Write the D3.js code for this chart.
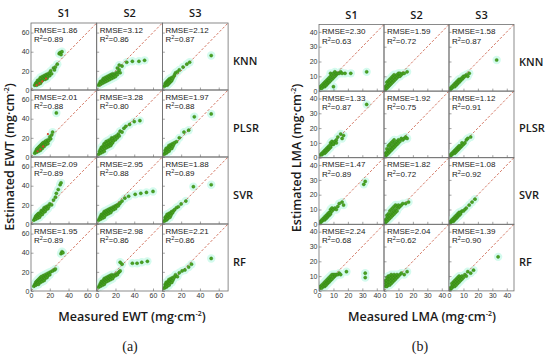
<!DOCTYPE html>
<html>
<head>
  <meta charset="utf-8">
  <script src="https://cdn.jsdelivr.net/npm/d3@7"></script>
  <style>
    body { margin: 0; background: #fff; }
    svg { display: block; }
    .lab { font-family: "Open Sans", "Liberation Sans", sans-serif; font-weight: 600; fill: #1a1a1a; }
    .stat { font-family: "Liberation Sans", Arial, sans-serif; font-size: 8px; fill: #222; }
    .tick text { font-family: "Liberation Sans", Arial, sans-serif; font-size: 7px; fill: #333; }
    .tick line { stroke: #666; stroke-width: 0.6; }
  </style>
</head>
<body>
<div id="chart"></div>
<script>
  const sensors = ["S1", "S2", "S3"];
  const models = ["KNN", "PLSR", "SVR", "RF"];
  const ewtTicks = [0, 20, 40, 60];
  const lmaTicks = [0, 10, 20, 30, 40];

  // RMSE / R2 per model (rows) and sensor (columns)
  const ewtRmse = [[1.86, 3.12, 2.12], [2.01, 3.28, 1.97], [2.09, 2.95, 1.88], [1.95, 2.98, 2.21]];
  const ewtR2   = [[0.89, 0.86, 0.87], [0.88, 0.80, 0.88], [0.89, 0.88, 0.89], [0.89, 0.86, 0.86]];
  const lmaRmse = [[2.30, 1.59, 1.58], [1.33, 1.92, 1.12], [1.47, 1.82, 1.08], [2.24, 2.04, 1.39]];
  const lmaR2   = [[0.63, 0.72, 0.87], [0.87, 0.75, 0.91], [0.89, 0.72, 0.92], [0.68, 0.62, 0.90]];

  // measured, estimated (EWT)
  const ewtKnnS1 = [[4,5],[5,7],[6,5],[6,8],[7,7],[7,10],[8,6],[8,9],[9,8],[9,11],[10,7],[10,10],[10,13],[11,9],[11,12],[12,10],[12,14],[13,11],[13,13],[14,12],[14,15],[15,11],[15,14],[16,13],[16,16],[17,12],[17,15],[18,14],[18,17],[19,16],[20,15],[20,18],[21,20],[22,17],[24,23],[25,21],[26,24],[28,27],[30,38],[31,39],[32,37],[33,40]];
  const ewtKnnS2 = [[2,5],[3,7],[4,6],[4,9],[5,8],[6,7],[6,10],[7,9],[7,12],[8,8],[8,11],[9,10],[9,13],[10,9],[10,12],[11,11],[11,14],[12,10],[12,13],[13,12],[13,15],[14,11],[14,14],[15,13],[15,16],[16,12],[16,15],[17,14],[17,17],[18,13],[18,16],[19,15],[20,17],[20,14],[21,18],[22,16],[23,19],[24,21],[25,18],[22,23],[24,26],[27,25],[32,29],[38,30],[45,30],[51,31]];
  const ewtKnnS3 = [[2,4],[3,5],[3,7],[4,6],[4,8],[5,5],[5,7],[5,9],[6,6],[6,8],[6,10],[7,7],[7,9],[7,11],[8,8],[8,10],[8,12],[9,9],[9,11],[10,10],[10,13],[11,12],[12,14],[13,16],[14,18],[16,19],[18,21],[22,24],[26,27],[29,29],[52,36]];
  const ewtPlsrS1 = [[4,4],[5,6],[6,5],[6,8],[7,7],[7,9],[8,6],[8,10],[9,8],[9,11],[10,7],[10,9],[10,12],[11,10],[11,13],[12,9],[12,11],[12,14],[13,12],[13,15],[14,11],[14,13],[15,14],[15,16],[16,13],[16,17],[17,15],[18,14],[18,18],[19,17],[20,21],[21,19],[22,23],[23,26],[27,46]];
  const ewtPlsrS2 = [[2,3],[3,6],[4,4],[4,8],[5,7],[5,10],[6,5],[6,9],[7,8],[7,12],[8,6],[8,10],[8,14],[9,9],[9,13],[10,11],[10,16],[11,10],[11,14],[12,12],[12,17],[13,11],[13,15],[14,13],[14,18],[15,12],[15,16],[16,14],[16,20],[17,15],[17,19],[18,17],[19,21],[20,18],[21,22],[22,20],[23,24],[24,22],[25,27],[27,26],[29,30],[31,32],[35,34],[40,37],[46,38]];
  const ewtPlsrS3 = [[2,3],[3,5],[3,7],[4,4],[4,6],[4,9],[5,5],[5,8],[6,7],[6,10],[7,6],[7,9],[7,12],[8,8],[8,11],[9,10],[9,13],[10,9],[10,12],[11,11],[11,14],[12,13],[13,15],[15,16],[18,20],[23,26],[28,28],[34,42],[52,45]];
  const ewtSvrS1 = [[3,4],[4,6],[5,5],[5,8],[6,7],[6,9],[7,6],[7,10],[8,8],[8,11],[9,7],[9,10],[10,9],[10,12],[11,11],[11,14],[12,10],[12,13],[13,12],[13,15],[14,14],[14,17],[15,13],[15,16],[16,15],[16,18],[17,17],[18,16],[18,19],[19,18],[20,21],[22,20],[24,25],[26,28],[27,32],[29,36],[31,41],[32,43]];
  const ewtSvrS2 = [[2,4],[3,6],[4,5],[4,8],[5,7],[5,10],[6,6],[6,9],[7,8],[7,11],[8,7],[8,10],[8,13],[9,9],[9,12],[10,11],[10,14],[11,10],[11,13],[12,12],[12,15],[13,11],[13,14],[14,13],[14,16],[15,12],[15,15],[16,14],[16,17],[17,16],[18,15],[18,18],[19,17],[20,16],[20,19],[21,18],[22,20],[23,19],[24,21],[25,22],[27,24],[30,27],[34,29],[41,31],[47,32],[53,33],[60,34]];
  const ewtSvrS3 = [[2,3],[3,5],[3,7],[4,4],[4,6],[4,8],[5,5],[5,7],[5,10],[6,6],[6,9],[7,8],[7,11],[8,7],[8,10],[9,9],[9,12],[10,11],[10,13],[11,12],[12,14],[13,15],[15,17],[17,18],[20,21],[25,24],[33,39],[52,41]];
  const ewtRfS1 = [[3,5],[4,7],[5,6],[5,9],[6,7],[6,10],[7,8],[7,11],[8,7],[8,9],[8,12],[9,10],[9,13],[10,9],[10,11],[10,14],[11,12],[11,15],[12,10],[12,13],[13,12],[13,16],[14,14],[14,11],[15,13],[15,17],[16,15],[17,14],[17,18],[18,16],[19,19],[20,17],[21,20],[23,21],[25,22],[26,23],[32,39],[33,41],[34,40]];
  const ewtRfS2 = [[2,4],[3,6],[4,5],[4,8],[5,7],[5,10],[6,6],[6,9],[7,8],[7,11],[8,7],[8,10],[8,13],[9,9],[9,12],[10,11],[10,14],[11,10],[11,13],[12,12],[12,15],[13,11],[13,14],[14,13],[14,16],[15,12],[15,15],[16,14],[16,17],[17,13],[17,16],[18,15],[19,17],[20,16],[21,18],[22,17],[23,19],[24,20],[25,21],[25,30],[27,28],[38,29],[43,29],[48,30],[54,31]];
  const ewtRfS3 = [[2,3],[3,5],[3,7],[4,4],[4,6],[4,9],[5,5],[5,8],[6,7],[6,10],[7,6],[7,9],[7,12],[8,8],[8,11],[9,10],[9,13],[10,9],[10,12],[11,11],[11,14],[12,13],[13,15],[14,17],[16,15],[18,19],[21,21],[24,22],[28,25],[31,28],[52,34]];
  // red-marked samples
  const ewtKnnS1Red = [[6,5],[9,7],[12,9],[16,12]];
  const ewtPlsrS1Red = [[7,6],[10,8],[13,11],[18,24]];

  // measured, estimated (LMA)
  const lmaKnnS1 = [[1,2],[1,3],[2,2],[2,4],[3,3],[3,5],[4,3],[4,4],[4,6],[5,4],[5,5],[5,7],[6,5],[6,6],[6,8],[7,6],[7,7],[7,9],[8,7],[8,10],[8,12],[9,8],[9,11],[10,9],[10,12],[11,10],[11,13],[12,11],[12,12],[13,12],[14,12],[15,13],[16,12],[18,12],[22,12],[33,13],[10,3]];
  const lmaKnnS2 = [[1,1],[1,3],[2,2],[2,4],[2,6],[3,3],[3,5],[3,7],[4,4],[4,6],[4,8],[5,5],[5,7],[5,9],[6,6],[6,8],[6,10],[7,7],[7,9],[7,11],[8,8],[8,10],[9,9],[9,11],[10,10],[10,12],[11,10],[11,12],[12,11],[13,12],[14,12],[16,13]];
  const lmaKnnS3 = [[1,1],[1,2],[2,2],[2,3],[3,3],[3,4],[4,3],[4,5],[5,4],[5,5],[5,6],[6,5],[6,6],[6,7],[7,6],[7,7],[7,8],[8,7],[8,8],[9,8],[9,9],[10,9],[10,10],[11,10],[12,11],[13,10],[14,12],[33,21]];
  const lmaPlsrS1 = [[1,2],[2,2],[2,3],[3,3],[3,4],[4,3],[4,4],[4,5],[5,4],[5,5],[5,6],[6,5],[6,6],[6,7],[7,6],[7,7],[7,8],[8,7],[8,8],[8,10],[9,9],[9,11],[10,9],[10,10],[11,11],[12,10],[12,12],[13,14],[15,16],[16,13],[17,15],[33,36]];
  const lmaPlsrS2 = [[1,1],[1,3],[2,2],[2,4],[2,6],[3,3],[3,5],[3,8],[4,4],[4,6],[4,9],[5,5],[5,7],[5,10],[6,6],[6,8],[6,11],[7,7],[7,9],[7,12],[8,8],[8,10],[9,9],[9,11],[10,10],[10,12],[11,11],[12,13],[13,12],[14,13],[15,14],[16,13]];
  const lmaPlsrS3 = [[1,1],[1,2],[2,2],[2,3],[3,3],[3,4],[4,3],[4,4],[4,5],[5,4],[5,5],[5,6],[6,5],[6,6],[6,7],[7,6],[7,7],[7,8],[8,7],[8,8],[9,8],[9,10],[10,9],[11,10],[12,12],[13,13],[15,14]];
  const lmaSvrS1 = [[1,1],[1,2],[2,2],[2,3],[3,3],[3,4],[4,3],[4,4],[4,5],[5,4],[5,5],[5,6],[6,5],[6,6],[6,7],[7,6],[7,7],[7,8],[8,7],[8,8],[8,10],[9,9],[9,11],[10,10],[11,11],[12,10],[13,12],[14,14],[16,15],[17,13],[31,27],[32,29]];
  const lmaSvrS2 = [[1,1],[1,3],[2,2],[2,4],[2,6],[3,3],[3,5],[3,7],[4,4],[4,6],[4,9],[5,5],[5,7],[5,10],[6,6],[6,8],[6,11],[7,7],[7,9],[7,12],[8,8],[8,10],[8,13],[9,9],[9,12],[10,11],[10,13],[11,12],[12,13],[13,14],[15,14],[17,15]];
  const lmaSvrS3 = [[1,1],[1,2],[2,2],[2,3],[3,2],[3,3],[3,4],[4,3],[4,4],[4,5],[5,4],[5,5],[5,6],[6,5],[6,6],[6,7],[7,6],[7,7],[7,8],[8,7],[8,8],[9,9],[10,9],[11,10],[12,11],[14,13],[16,15],[18,17]];
  const lmaRfS1 = [[1,2],[1,3],[2,2],[2,4],[3,3],[3,5],[4,3],[4,4],[4,6],[5,4],[5,5],[5,7],[6,5],[6,6],[6,8],[7,6],[7,7],[7,9],[8,7],[8,8],[8,10],[9,8],[9,11],[10,9],[10,11],[11,10],[11,11],[12,11],[13,11],[14,12],[15,11],[19,13],[32,12],[32,9]];
  const lmaRfS2 = [[1,3],[1,5],[1,7],[2,3],[2,5],[2,7],[2,9],[3,4],[3,6],[3,8],[3,10],[4,4],[4,6],[4,8],[4,10],[5,5],[5,7],[5,9],[5,11],[6,6],[6,8],[6,10],[7,7],[7,9],[7,11],[8,8],[8,10],[9,9],[9,11],[10,10],[11,11],[12,12],[14,11],[16,13]];
  const lmaRfS3 = [[1,1],[1,2],[2,2],[2,3],[2,5],[3,3],[3,4],[3,6],[4,3],[4,5],[4,7],[5,4],[5,6],[5,8],[6,5],[6,7],[6,9],[7,6],[7,8],[7,10],[8,7],[8,9],[9,8],[9,10],[10,9],[11,11],[12,10],[13,13],[15,12],[17,14],[34,23]];

  const ewtPoints = [[ewtKnnS1, ewtKnnS2, ewtKnnS3], [ewtPlsrS1, ewtPlsrS2, ewtPlsrS3],
                     [ewtSvrS1, ewtSvrS2, ewtSvrS3], [ewtRfS1, ewtRfS2, ewtRfS3]];
  const ewtRed = [[ewtKnnS1Red, [], []], [ewtPlsrS1Red, [], []], [[], [], []], [[], [], []]];
  const lmaPoints = [[lmaKnnS1, lmaKnnS2, lmaKnnS3], [lmaPlsrS1, lmaPlsrS2, lmaPlsrS3],
                     [lmaSvrS1, lmaSvrS2, lmaSvrS3], [lmaRfS1, lmaRfS2, lmaRfS3]];
  const lmaRed = [[[], [], []], [[], [], []], [[], [], []], [[], [], []]];

  const svg = d3.select("#chart").append("svg")
      .attr("width", 550)
      .attr("height", 357);

  let clipId = 0;

  function drawPanel(p) {
    const root = svg.append("g");

    p.points.forEach((row, r) => {
      row.forEach((pts, c) => {
        const g = root.append("g")
            .attr("transform", `translate(${p.left + c * p.cw}, ${p.top + r * p.ch})`);
        const x = d3.scaleLinear().domain(p.domain).range([0, p.cw]);
        const y = d3.scaleLinear().domain(p.domain).range([p.ch, 0]);

        const id = "clip" + (clipId++);
        g.append("clipPath").attr("id", id)
          .append("rect").attr("width", p.cw).attr("height", p.ch);
        const plot = g.append("g").attr("clip-path", `url(#${id})`);

        // light halo behind dense clusters
        plot.selectAll("circle.halo").data(pts).join("circle")
            .attr("class", "halo")
            .attr("cx", d => x(d[0])).attr("cy", d => y(d[1]))
            .attr("r", 4.2).attr("fill", "#d4fbee");

        plot.append("line")
            .attr("x1", x(p.domain[0])).attr("y1", y(p.domain[0]))
            .attr("x2", x(p.domain[1])).attr("y2", y(p.domain[1]))
            .attr("stroke", "#c8553d").attr("stroke-width", 0.8)
            .attr("stroke-dasharray", "2.5,1.8");

        plot.selectAll("circle.pt").data(pts).join("circle")
            .attr("class", "pt")
            .attr("cx", d => x(d[0])).attr("cy", d => y(d[1]))
            .attr("r", 1.6)
            .attr("fill", "#48a322").attr("stroke", "#2f7f12").attr("stroke-width", 0.4);

        plot.selectAll("circle.red").data(p.red[r][c]).join("circle")
            .attr("class", "red")
            .attr("cx", d => x(d[0])).attr("cy", d => y(d[1]))
            .attr("r", 1.1).attr("fill", "#d9432c");

        g.append("g")
            .call(d3.axisLeft(y).tickValues(p.ticks).tickSize(-2.5).tickPadding(1.5)
                .tickFormat(c === 0 ? d3.format("d") : ""))
            .call(a => a.select(".domain").remove());
        g.append("g")
            .attr("transform", `translate(0, ${p.ch})`)
            .call(d3.axisBottom(x).tickValues(p.ticks).tickSize(-2.5).tickPadding(2)
                .tickFormat(r === models.length - 1 ? d3.format("d") : ""))
            .call(a => a.select(".domain").remove());

        g.append("rect")
            .attr("width", p.cw).attr("height", p.ch)
            .attr("fill", "none").attr("stroke", "#6e6e6e").attr("stroke-width", 0.8);

        g.append("text").attr("class", "stat")
            .attr("x", 3).attr("y", 9.5)
            .text("RMSE=" + p.rmse[r][c].toFixed(2));
        const t2 = g.append("text").attr("class", "stat").attr("x", 3).attr("y", 19);
        t2.append("tspan").text("R");
        t2.append("tspan").attr("font-size", "5.5px").attr("dy", -3).text("2");
        t2.append("tspan").attr("dy", 3).text("=" + p.r2[r][c].toFixed(2));
      });
    });

    sensors.forEach((s, c) => {
      root.append("text").attr("class", "lab")
          .attr("x", p.left + (c + 0.5) * p.cw).attr("y", p.top - 6)
          .attr("text-anchor", "middle").attr("font-size", 11)
          .text(s);
    });
    models.forEach((m, r) => {
      root.append("text").attr("class", "lab")
          .attr("x", p.left + 3 * p.cw + 5).attr("y", p.top + (r + 0.5) * p.ch + 8)
          .attr("font-size", 11)
          .text(m);
    });

    const xt = root.append("text").attr("class", "lab")
        .attr("x", p.xTitleX).attr("y", 321)
        .attr("text-anchor", "middle").attr("font-size", 12.5);
    xt.append("tspan").text(`Measured ${p.name} (mg·cm`);
    xt.append("tspan").attr("font-size", 7).attr("dy", -5).text("-2");
    xt.append("tspan").attr("dy", 5).text(")");

    const yt = root.append("text").attr("class", "lab")
        .attr("transform", `translate(${p.yTitleX}, ${p.yTitleY}) rotate(-90)`)
        .attr("text-anchor", "middle").attr("font-size", 12.5);
    yt.append("tspan").text(`Estimated ${p.name} (mg·cm`);
    yt.append("tspan").attr("font-size", 7).attr("dy", -5).text("-2");
    yt.append("tspan").attr("dy", 5).text(")");

    root.append("text")
        .attr("x", p.xTitleX - 2).attr("y", 351)
        .attr("text-anchor", "middle")
        .attr("font-family", "'Liberation Serif', 'DejaVu Serif', serif")
        .attr("font-size", 14).attr("fill", "#1a1a1a")
        .text(p.letter);
  }

  drawPanel({
    name: "EWT", letter: "(a)", points: ewtPoints, red: ewtRed, rmse: ewtRmse, r2: ewtR2,
    domain: [0, 70], ticks: ewtTicks,
    left: 31, top: 23, cw: 65.7, ch: 67,
    xTitleX: 132, yTitleX: 14, yTitleY: 157
  });
  drawPanel({
    name: "LMA", letter: "(b)", points: lmaPoints, red: lmaRed, rmse: lmaRmse, r2: lmaR2,
    domain: [0, 45], ticks: lmaTicks,
    left: 319, top: 24.5, cw: 65, ch: 66.6,
    xTitleX: 422, yTitleX: 301, yTitleY: 158
  });
</script>
</body>
</html>
